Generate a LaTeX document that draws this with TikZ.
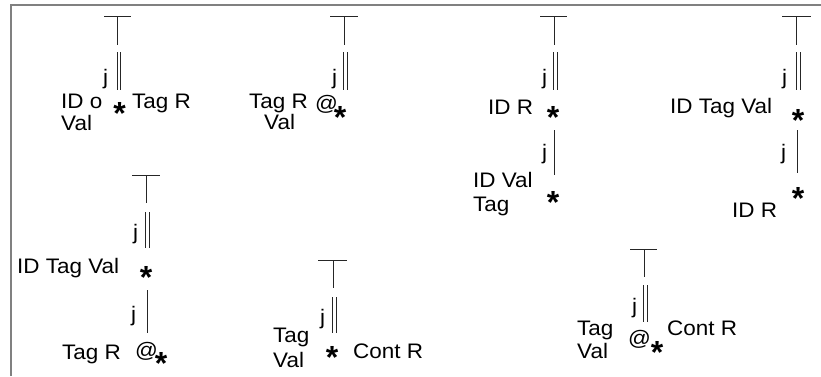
\documentclass[tikz,border=0pt]{standalone}
\usepackage{fontspec}
\usepackage{graphicx}
\setmainfont{Liberation Sans}
\newcommand{\widetxt}[1]{\scalebox{1.07}[1]{#1}}
\tikzset{
  lbl/.style={anchor=base west, inner sep=0pt, font=\fontsize{21}{23}\selectfont},
  starmark/.style={anchor=north, inner sep=0pt, font=\fontsize{32}{34}\selectfont\bfseries},
  edge/.style={line width=0.9pt, black!85},
  frame/.style={line width=1.6pt, black!50},
}
% the horizontal bar on top of a tree
\newcommand{\rootbar}[4]{% name, left x, right x, y
  \coordinate (#1L) at (#2,#4);
  \coordinate (#1R) at (#3,#4);
  \draw[edge] (#1L) -- (#1R);
}
\begin{document}
\begin{tikzpicture}[x=1pt,y=-1pt]
\useasboundingbox (0,0) rectangle (821,376);
\coordinate (fbl) at (11,376);
\coordinate (ftl) at (11,5);
\coordinate (ftr) at (821,5);
\draw[frame] (fbl) -- (ftl) -- (ftr);

% ---------- tree 1 ----------
\rootbar{a}{104}{131}{16}
\coordinate (aS) at (117,16); \coordinate (aSe) at (117,45);
\draw[edge] (aS) -- (aSe);
\coordinate (aD1) at (117,52); \coordinate (aD1e) at (117,90);
\coordinate (aD2) at (120.5,52); \coordinate (aD2e) at (120.5,90);
\draw[edge] (aD1) -- (aD1e) (aD2) -- (aD2e);
\node[lbl] (aj) at (103,84) {\widetxt{j}};
\node[starmark] (astar) at (119.5,102) {*};
\node[lbl] (aid) at (61,108) {\widetxt{ID o}};
\node[lbl] (aval) at (61,130) {\widetxt{Val}};
\node[lbl] (atag) at (132,108) {\widetxt{Tag R}};

% ---------- tree 2 ----------
\rootbar{b}{330}{358}{16}
\coordinate (bS) at (344,16); \coordinate (bSe) at (344,45);
\draw[edge] (bS) -- (bSe);
\coordinate (bD1) at (343.5,52); \coordinate (bD1e) at (343.5,90);
\coordinate (bD2) at (347,52); \coordinate (bD2e) at (347,90);
\draw[edge] (bD1) -- (bD1e) (bD2) -- (bD2e);
\node[lbl] (bj) at (332,84) {\widetxt{j}};
\node[lbl] (btag) at (249,108) {\widetxt{Tag R}};
\node[lbl] (bval) at (264,129) {\widetxt{Val}};
\node[lbl] (bat) at (315,110) {\widetxt{@}};
\node[starmark] (bstar) at (340,106) {*};

% ---------- tree 3 ----------
\rootbar{c}{540}{567}{16}
\coordinate (cS) at (554,16); \coordinate (cSe) at (554,45);
\draw[edge] (cS) -- (cSe);
\coordinate (cD1) at (553,52); \coordinate (cD1e) at (553,90);
\coordinate (cD2) at (557,52); \coordinate (cD2e) at (557,90);
\draw[edge] (cD1) -- (cD1e) (cD2) -- (cD2e);
\node[lbl] (cj1) at (542,84) {\widetxt{j}};
\node[lbl] (cid) at (488,114) {\widetxt{ID R}};
\node[starmark] (cstar1) at (553,106) {*};
\coordinate (cL) at (554,130); \coordinate (cLe) at (554,175);
\draw[edge] (cL) -- (cLe);
\node[lbl] (cj2) at (542,159) {\widetxt{j}};
\node[lbl] (cidv) at (473,187) {\widetxt{ID Val}};
\node[lbl] (ctag) at (473,211) {\widetxt{Tag}};
\node[starmark] (cstar2) at (553,191) {*};

% ---------- tree 4 ----------
\rootbar{d}{782}{811}{16}
\coordinate (dS) at (796,16); \coordinate (dSe) at (796,45);
\draw[edge] (dS) -- (dSe);
\coordinate (dD1) at (796,52); \coordinate (dD1e) at (796,90);
\coordinate (dD2) at (800,52); \coordinate (dD2e) at (800,90);
\draw[edge] (dD1) -- (dD1e) (dD2) -- (dD2e);
\node[lbl] (dj1) at (782,84) {\widetxt{j}};
\node[lbl] (did) at (670,113) {\widetxt{ID Tag Val}};
\node[starmark] (dstar1) at (798,109) {*};
\coordinate (dL) at (797,130); \coordinate (dLe) at (797,173);
\draw[edge] (dL) -- (dLe);
\node[lbl] (dj2) at (781,159) {\widetxt{j}};
\node[starmark] (dstar2) at (798,187) {*};
\node[lbl] (dr) at (732,217) {\widetxt{ID R}};

% ---------- tree 5 ----------
\rootbar{e}{132}{160}{175}
\coordinate (eS) at (146,175); \coordinate (eSe) at (146,203);
\draw[edge] (eS) -- (eSe);
\coordinate (eD1) at (145,212); \coordinate (eD1e) at (145,248);
\coordinate (eD2) at (149,212); \coordinate (eD2e) at (149,248);
\draw[edge] (eD1) -- (eD1e) (eD2) -- (eD2e);
\node[lbl] (ej1) at (133,239) {\widetxt{j}};
\node[lbl] (eid) at (17,273) {\widetxt{ID Tag Val}};
\node[starmark] (estar1) at (146,266) {*};
\coordinate (eL) at (147,290); \coordinate (eLe) at (147,333);
\draw[edge] (eL) -- (eLe);
\node[lbl] (ej2) at (131,321) {\widetxt{j}};
\node[lbl] (etag) at (62,359) {\widetxt{Tag R}};
\node[lbl] (eat) at (135,357) {\widetxt{@}};
\node[starmark] (estar2) at (161,352) {*};

% ---------- tree 6 ----------
\rootbar{f}{318}{347}{260}
\coordinate (fS) at (333,260); \coordinate (fSe) at (333,288);
\draw[edge] (fS) -- (fSe);
\coordinate (fD1) at (332,297); \coordinate (fD1e) at (332,333);
\coordinate (fD2) at (336,297); \coordinate (fD2e) at (336,333);
\draw[edge] (fD1) -- (fD1e) (fD2) -- (fD2e);
\node[lbl] (fj) at (320,324) {\widetxt{j}};
\node[lbl] (ftag) at (273,342) {\widetxt{Tag}};
\node[lbl] (fval) at (273,367) {\widetxt{Val}};
\node[starmark] (fstar) at (332,346) {*};
\node[lbl] (fcont) at (353,358) {\widetxt{Cont R}};

% ---------- tree 7 ----------
\rootbar{g}{630}{657}{249}
\coordinate (gS) at (644,249); \coordinate (gSe) at (644,277);
\draw[edge] (gS) -- (gSe);
\coordinate (gD1) at (643,285); \coordinate (gD1e) at (643,322);
\coordinate (gD2) at (647,285); \coordinate (gD2e) at (647,322);
\draw[edge] (gD1) -- (gD1e) (gD2) -- (gD2e);
\node[lbl] (gj) at (632,313) {\widetxt{j}};
\node[lbl] (gtag) at (577,335) {\widetxt{Tag}};
\node[lbl] (gval) at (577,358) {\widetxt{Val}};
\node[lbl] (gat) at (628,345) {\widetxt{@}};
\node[starmark] (gstar) at (657,341) {*};
\node[lbl] (gcont) at (667,335) {\widetxt{Cont R}};
\end{tikzpicture}
\end{document}
